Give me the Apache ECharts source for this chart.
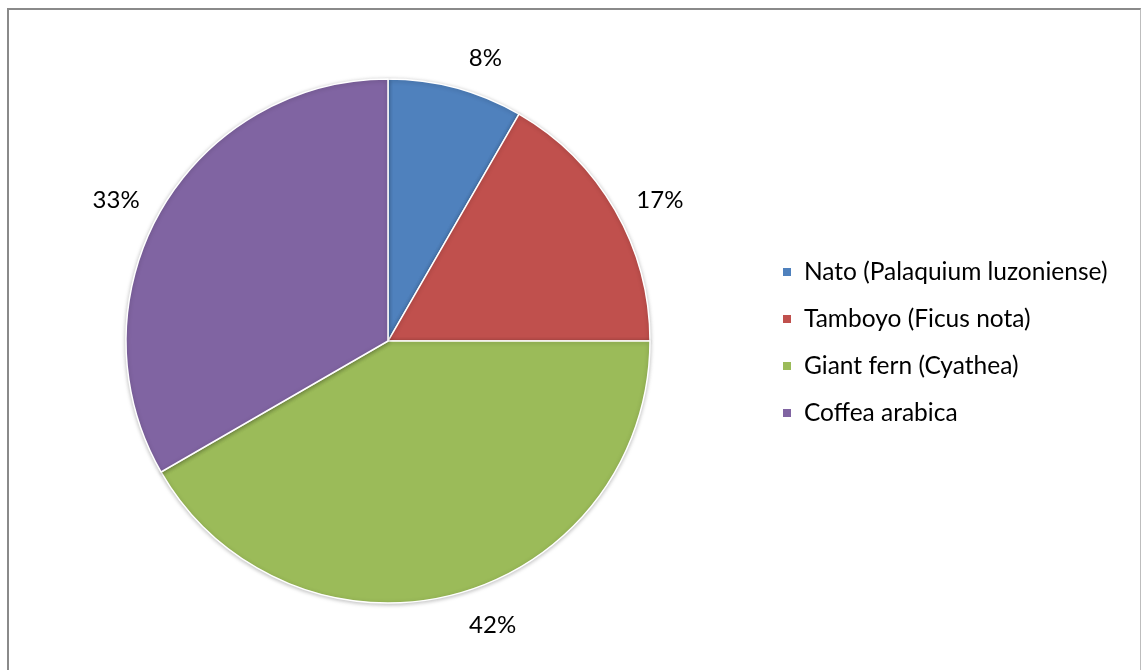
<!DOCTYPE html>
<html>
<head>
<meta charset="utf-8">
<script src="https://cdn.jsdelivr.net/npm/echarts@6/dist/echarts.min.js"></script>
<style>
  html, body { margin: 0; padding: 0; background: #fff; }
  #frame { position: absolute; left: 7px; top: 8px; width: 1134px; height: 670px; border-left: 2px solid #8a8a8a; border-top: 2px solid #8a8a8a; border-right: 1px solid #bdbdbd; box-sizing: border-box; }
  #chart { position: absolute; left: 0; top: 0; width: 1141px; height: 670px; }
</style>
</head>
<body>
<div id="frame"></div>
<div id="chart"></div>
<script>
// Species shares in the sample
const species = ['Nato (Palaquium luzoniense)', 'Tamboyo (Ficus nota)', 'Giant fern (Cyathea)', 'Coffea arabica'];
const counts = [1, 2, 5, 4];
const colors = ['#4F81BD', '#C0504D', '#9BBB59', '#8064A2'];

// distance of each percentage label from the rim
const labelOffsets = [31, 19, 32, 19];

const chart = echarts.init(document.getElementById('chart'), null, { renderer: 'canvas' });
const font = 'Lato, "Open Sans", sans-serif';

chart.setOption({
  animation: false,
  color: colors,
  legend: {
    orient: 'vertical',
    left: 781,
    top: 258,
    padding: 0,
    itemWidth: 10,
    itemHeight: 10,
    itemGap: 19,
    icon: 'rect',
    data: species,
    textStyle: { fontFamily: font, fontSize: 24.5, color: '#000', lineHeight: 28, padding: [0, 0, 0, 7] }
  },
  series: [{
    type: 'pie',
    center: [388, 341],
    radius: [0, 262],
    startAngle: 90,
    clockwise: true,
    data: species.map((name, i) => ({
      name,
      value: counts[i],
      labelLine: { length: labelOffsets[i], length2: 0 }
    })),
    itemStyle: {
      borderColor: '#fff',
      borderWidth: 1.5,
      shadowBlur: 4,
      shadowColor: 'rgba(0,0,0,0.25)',
      shadowOffsetY: 1
    },
    label: {
      show: true,
      position: 'outside',
      formatter: p => Math.round(p.percent) + '%',
      fontFamily: font,
      fontSize: 24,
      color: '#000'
    },
    labelLine: { show: false, length: 28, length2: 0 },
    emphasis: { disabled: true }
  }]
});
</script>
</body>
</html>
